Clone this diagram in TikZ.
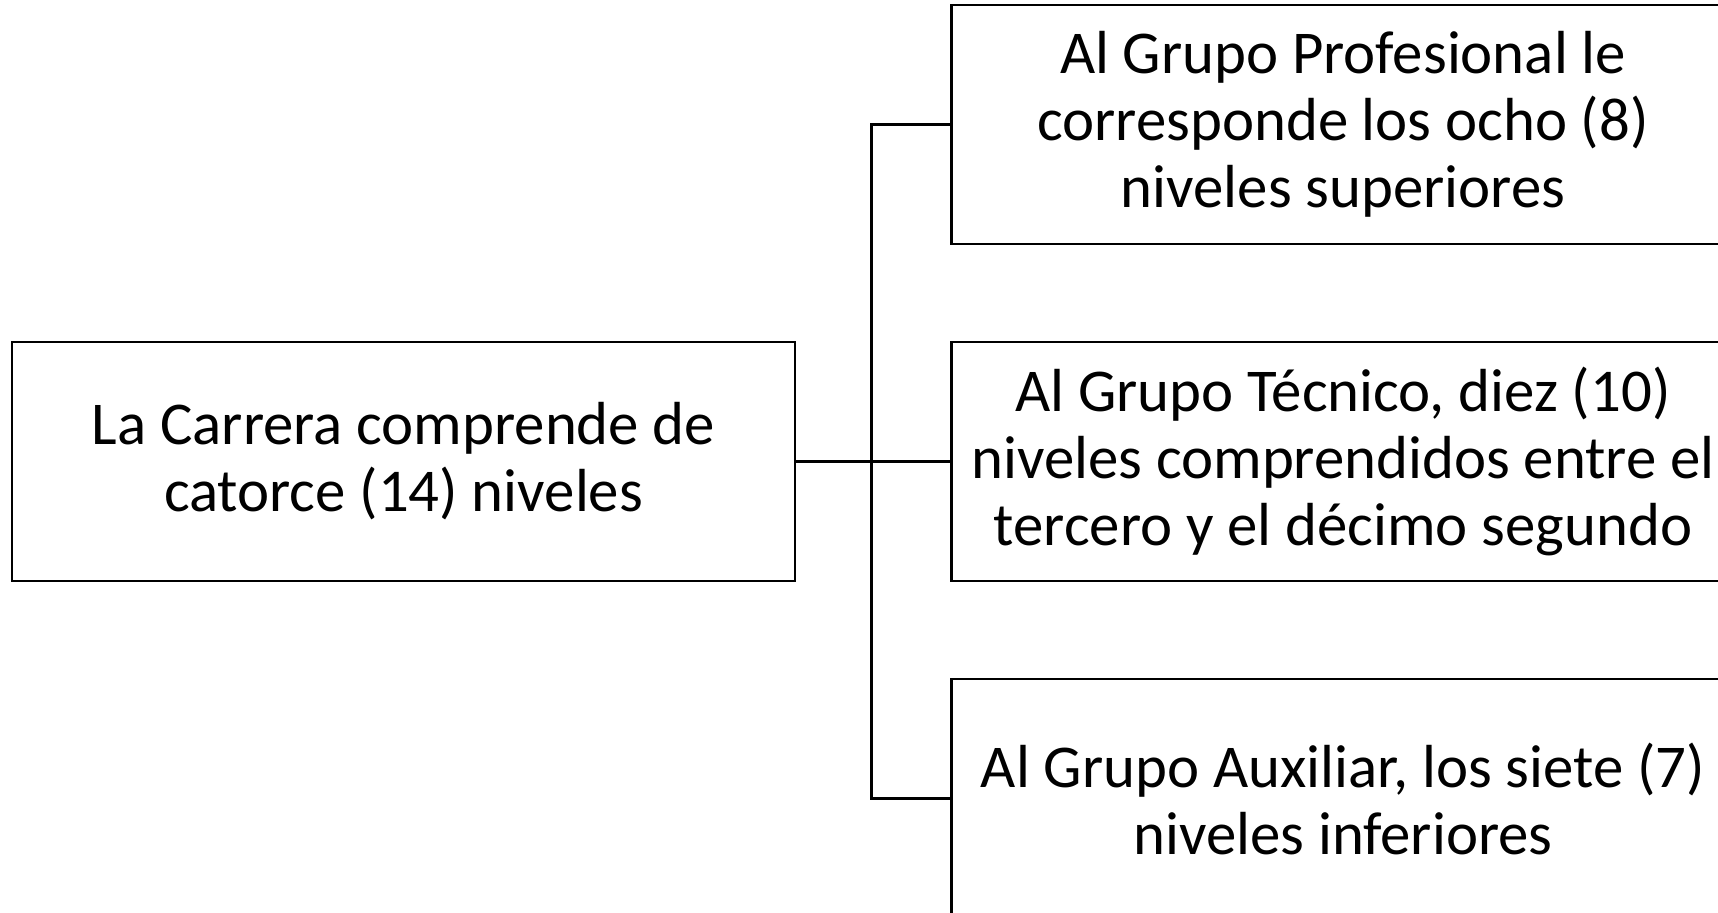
\documentclass[tikz,border=0pt]{standalone}
\usepackage{fontspec}
\setmainfont{Carlito}
\begin{document}
\begin{tikzpicture}[x=0.5pt,y=-0.5pt,
  box/.style={draw, line width=1.1pt, minimum width=391.5pt, minimum height=119.5pt,
    align=center, font=\fontsize{30.4}{33.5}\selectfont, inner sep=0pt},
  link/.style={line width=1.1pt}]
\useasboundingbox (0,0) rectangle (1718,913);
\node[box] (root) at (403.5,461.5) {La Carrera comprende de\\catorce (14) niveles};
\node[box] (a) at (1343,124.5) {Al Grupo Profesional le\\corresponde los ocho (8)\\niveles superiores};
\node[box] (b) at (1343,461.5) {Al Grupo Técnico, diez (10)\\niveles comprendidos entre el\\tercero y el décimo segundo};
\node[box] (c) at (1343,798.5) {Al Grupo Auxiliar, los siete (7)\\niveles inferiores};
\draw[link] (root.east) -- (b.west);
\draw[link] (a.west) -- ++(-79,0) |- (c.west);
\end{tikzpicture}
\end{document}
